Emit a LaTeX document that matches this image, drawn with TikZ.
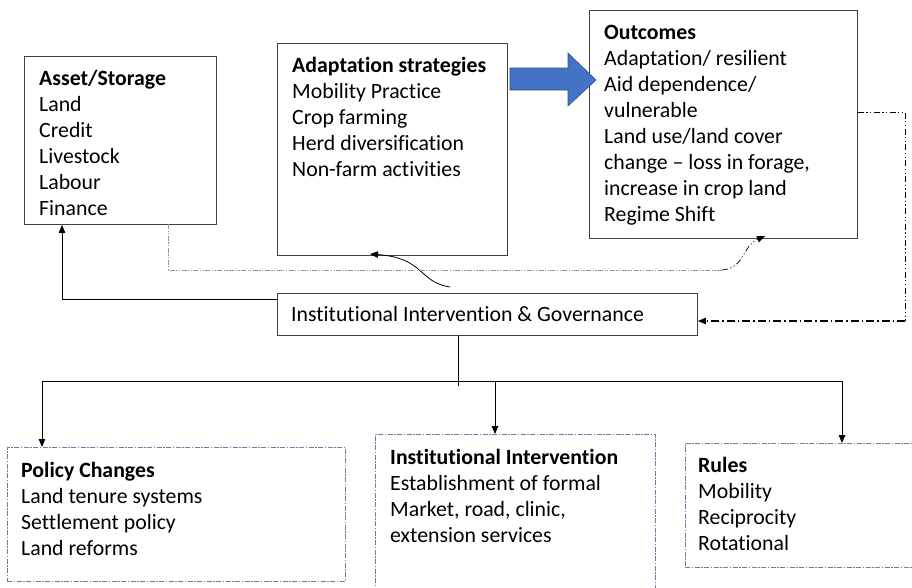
\documentclass[tikz,border=0pt]{standalone}
\usepackage{fontspec}
\setmainfont{Carlito}[Ligatures=NoCommon]
\usetikzlibrary{arrows.meta}
\definecolor{boxgray}{HTML}{404040}
\definecolor{dashblue}{HTML}{6A7DA6}
\definecolor{arrowblue}{HTML}{4472C4}
\definecolor{arrowedge}{HTML}{2F528F}
\tikzset{
  solidbox/.style={draw=boxgray, line width=0.9pt, rectangle, inner sep=0pt},
  dashbox/.style={draw=dashblue, line width=0.9pt, rectangle, inner sep=0pt,
     dash pattern=on 5pt off 1.5pt on 1.5pt off 1.5pt},
  txt/.style={anchor=north west, align=left, inner sep=0pt,
     font=\fontsize{21.8}{26}\selectfont},
  conn/.style={draw=black, line width=0.8pt},
  tip/.style={-{Triangle[length=8pt,width=6.5pt]}},
  ddline/.style={draw=black, line width=1.1pt,
     dash pattern=on 8pt off 3pt on 1.5pt off 3pt},
  ddtop/.style={draw=black, line width=1pt,
     dash pattern=on 6pt off 2.5pt on 1.2pt off 2.5pt on 1.2pt off 2.5pt},
  grayline/.style={draw=dashblue!80, line width=0.9pt,
     dash pattern=on 5pt off 1.5pt on 1.2pt off 1.5pt on 1.2pt off 1.5pt}
}
\begin{document}
\begin{tikzpicture}[x=1pt,y=-1pt]
\useasboundingbox (0,0) rectangle (912,587);
% top boxes
\node[solidbox, anchor=north west, minimum width=192pt, minimum height=168pt] (asset) at (24,56) {};
\node[txt] (assetT) at (39,70) {\textbf{Asset/Storage}\\Land\\Credit\\Livestock\\Labour\\Finance};
\node[solidbox, anchor=north west, minimum width=230pt, minimum height=212pt] (adapt) at (277,43) {};
\node[txt] (adaptT) at (292,57) {\textbf{Adaptation strategies}\\Mobility Practice\\Crop farming\\Herd diversification\\Non-farm activities};
\node[solidbox, anchor=north west, minimum width=268pt, minimum height=228pt] (out) at (589,10) {};
\node[txt] (outT) at (604,25) {\textbf{Outcomes}\\Adaptation/ resilient\\Aid dependence/\\vulnerable\\Land use/land cover\\change -- loss in forage,\\increase in crop land\\Regime Shift};
% institutional box
\node[solidbox, anchor=north west, minimum width=420pt, minimum height=42pt] (inst) at (277,293) {};
\node[txt, anchor=west] (instT) at (291,314) {Institutional Intervention \& Governance};
% bottom boxes
\node[dashbox, anchor=north west, minimum width=338pt, minimum height=134pt] (policy) at (7,447) {};
\node[txt] (policyT) at (21,462) {\textbf{Policy Changes}\\Land tenure systems\\Settlement policy\\Land reforms};
\node[dashbox, anchor=north west, minimum width=280pt, minimum height=170pt] (ii) at (375,434) {};
\node[txt] (iiT) at (390,449) {\textbf{Institutional Intervention}\\Establishment of formal\\Market, road, clinic,\\extension services};
\node[dashbox, anchor=north west, minimum width=240pt, minimum height=124pt] (rules) at (685,443) {};
\node[txt] (rulesT) at (698,457) {\textbf{Rules}\\Mobility\\Reciprocity\\Rotational};
% blue block arrow
\filldraw[fill=arrowblue, draw=arrowedge, line width=0.6pt]
  (510,68) -- (568,68) -- (568,53) -- (596,80) -- (568,106) -- (568,90) -- (510,90) -- cycle;
% inst -> asset
\coordinate (aL) at (62,299);
\draw[conn] (inst.west |- aL) -- (aL);
\draw[conn, tip] (aL) -- (aL |- asset.south);
% curved arrow to adaptation
\coordinate (cS) at (450,287);
\coordinate (cE) at (370,254);
\draw[conn, tip] (cS) .. controls (418,282) and (425,258) .. (cE);
% gray dash-dot from asset to outcomes
\coordinate (g1) at (168,224);
\coordinate (g2) at (168,270);
\coordinate (g3) at (722,270);
\coordinate (g4) at (765,236);
\draw[grayline] (g1) -- (g2) -- (g3);
\draw[ddtop, line width=0.7pt, tip] (g3) .. controls (745,268) and (742,246) .. (g4);
% right dash-dot feedback
\coordinate (r1) at (905,112);
\coordinate (r2) at (905,321);
\draw[ddtop] (out.east |- r1) -- (r1) -- (r2);
\draw[ddline, tip] (r2) -- (inst.east |- r2);
% tree
\coordinate (t0) at (458,386);
\coordinate (tL) at (42,381);
\coordinate (tR) at (842,381);
\coordinate (tM) at (495,381);
\draw[conn] (inst.south -| t0) -- (t0);
\draw[conn] (tL) -- (tR);
\draw[conn, tip] (tL) -- (tL |- policy.north);
\draw[conn, tip] (tM) -- (tM |- ii.north);
\draw[conn, tip] (tR) -- (tR |- rules.north);
\end{tikzpicture}
\end{document}
